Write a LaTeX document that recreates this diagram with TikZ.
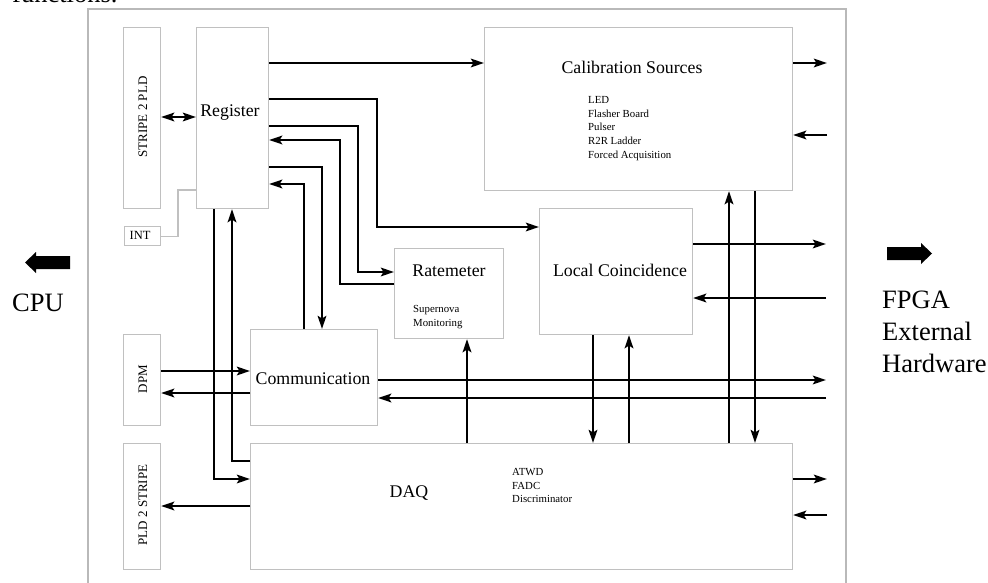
\documentclass[tikz,border=0pt]{standalone}
\usepackage{fontspec}
\setmainfont{Liberation Serif}
\usetikzlibrary{arrows.meta,calc}
\definecolor{boxgray}{RGB}{192,192,192}
\definecolor{framegray}{RGB}{185,185,185}
\newcommand{\fsz}[1]{\fontsize{#1}{#1}\selectfont}
\begin{document}
\begin{tikzpicture}[x=1pt,y=-1pt,
  blk/.style={draw=boxgray, line width=1.1pt, fill=white, inner sep=0pt, anchor=north west},
  ttl/.style={font=\fsz{17.8}, inner sep=0pt, anchor=base},
  sml/.style={font=\fsz{10.8}, inner sep=0pt, anchor=base west},
  vlab/.style={font=\fsz{13}, inner sep=0pt, rotate=90},
  big/.style={font=\fsz{26.5}, inner sep=0pt, anchor=base west},
  wire/.style={line width=2.6pt, line join=miter, -{Stealth[length=13pt,width=8.5pt,inset=2.5pt]}},
  wiretwo/.style={line width=2.6pt, {Stealth[length=13pt,width=8.5pt,inset=2.5pt]}-{Stealth[length=13pt,width=8.5pt,inset=2.5pt]}},
  gline/.style={draw=boxgray, line width=1.1pt}
]
\useasboundingbox (0,0) rectangle (988,583);
\clip (0,0) rectangle (988,583);

% surrounding text and frame
\node[big] (fn) at (12,2.5) {functions.};
\draw[framegray, line width=1.3pt] (88,590) -- (88,9) -- (846,9) -- (846,590);

% blocks
\node[blk, minimum width=37pt, minimum height=181pt] (stripe) at (123,27) {};
\node[blk, minimum width=72pt, minimum height=181pt] (reg) at (196,27) {};
\node[blk, minimum width=36pt, minimum height=19pt] (int) at (124,226) {};
\node[blk, minimum width=308pt, minimum height=163pt] (cal) at (484,27) {};
\node[blk, minimum width=153pt, minimum height=126pt] (lc) at (539,208) {};
\node[blk, minimum width=109pt, minimum height=90pt] (rate) at (394,248) {};
\node[blk, minimum width=37pt, minimum height=91pt] (dpm) at (123,334) {};
\node[blk, minimum width=127pt, minimum height=96pt] (comm) at (250,329) {};
\node[blk, minimum width=37pt, minimum height=126pt] (pld) at (123,443) {};
\node[blk, minimum width=542pt, minimum height=126pt] (daq) at (250,443) {};

% texts
\node[ttl] (tReg) at (230,117) {Register};
\node[ttl] (tCal) at (632,74) {Calibration Sources};
\node[sml] (c1) at (588,104) {LED};
\node[sml] (c2) at (588,118) {Flasher Board};
\node[sml] (c3) at (588,131) {Pulser};
\node[sml] (c4) at (588,145) {R2R Ladder};
\node[sml] (c5) at (588,159) {Forced Acquisition};
\node[ttl] (tLC) at (620,276) {Local Coincidence};
\node[ttl] (tRate) at (449,276) {Ratemeter};
\node[sml] (s1) at (413,312) {Supernova};
\node[sml] (s2) at (413,326) {Monitoring};
\node[ttl] (tComm) at (313,384) {Communication};
\node[ttl] (tDaq) at (409,497) {DAQ};
\node[sml] (d1) at (512,475) {ATWD};
\node[sml] (d2) at (512,489) {FADC};
\node[sml] (d3) at (512,502) {Discriminator};
\node[vlab] (tStripe) at (143,117) {STRIPE 2 PLD};
\node[vlab] (tDpm) at (143,379) {DPM};
\node[vlab] (tPld) at (143,505) {PLD 2 STRIPE};
\node[font=\fsz{12.5}, inner sep=0pt] (tInt) at (140,235.5) {INT};
\node[big] (tCpu) at (12,311) {CPU};
\node[big] (f1) at (882,308) {FPGA};
\node[big] (f2) at (882,340) {External};
\node[big] (f3) at (882,372) {Hardware};

% big arrows
\fill (25,262.5) -- (36,252) -- (36,256) -- (70,256) -- (70,269) -- (36,269) -- (36,273) -- cycle;
\fill (932,253.5) -- (921,243) -- (921,247) -- (887,247) -- (887,260) -- (921,260) -- (921,264) -- cycle;

% levels and bends
\coordinate (y63) at (0,63);
\coordinate (y99) at (0,99);
\coordinate (y117) at (0,117);
\coordinate (y126) at (0,126);
\coordinate (y140) at (0,140);
\coordinate (y371) at (0,371);
\coordinate (y393) at (0,393);
\coordinate (y506) at (0,506);
\coordinate (k2) at (377,227);
\coordinate (k3) at (358,272);
\coordinate (k4) at (340,284);
\coordinate (k5) at (322,167);
\coordinate (k6) at (304,184);
\coordinate (k7) at (214,479);
\coordinate (k8) at (232,461);
\coordinate (k9) at (178,190);
\coordinate (v467) at (467,0);
\coordinate (v593) at (593,0);
\coordinate (v629) at (629,0);
\coordinate (v729) at (729,0);
\coordinate (v755) at (755,0);
\coordinate (o1) at (827,63);
\coordinate (i1) at (827,135);
\coordinate (o2) at (826,244);
\coordinate (i2) at (826,298);
\coordinate (o3) at (826,380);
\coordinate (i3) at (826,398);
\coordinate (o4) at (827,479);
\coordinate (i4) at (827,515);

% connectors
\draw[gline] (int.east) -| (k9) -- (reg.west |- k9);
\draw[wire] (reg.east |- y63) -- (cal.west |- y63);
\draw[wire] (reg.east |- y99) -| (k2) -- (lc.west |- k2);
\draw[wire] (reg.east |- y126) -| (k3) -- (rate.west |- k3);
\draw[wire] (rate.west |- k4) -- (k4) |- (reg.east |- y140);
\draw[wire] (reg.east |- k5) -| (comm.north -| k5);
\draw[wire] (comm.north -| k6) |- (reg.east |- k6);
\draw[wire] (reg.south -| k7) |- (daq.west |- k7);
\draw[wire] (daq.west |- k8) -| (reg.south -| k8);
\draw[wiretwo] (stripe.east |- y117) -- (reg.west |- y117);
\draw[wire] (dpm.east |- y371) -- (comm.west |- y371);
\draw[wire] (comm.west |- y393) -- (dpm.east |- y393);
\draw[wire] (daq.west |- y506) -- (pld.east |- y506);

\draw[wire] (cal.east |- o1) -- (o1);
\draw[wire] (i1) -- (cal.east |- i1);
\draw[wire] (lc.east |- o2) -- (o2);
\draw[wire] (i2) -- (lc.east |- i2);
\draw[wire] (comm.east |- o3) -- (o3);
\draw[wire] (i3) -- (comm.east |- i3);
\draw[wire] (daq.east |- o4) -- (o4);
\draw[wire] (i4) -- (daq.east |- i4);

\draw[wire] (daq.north -| v467) -- (rate.south -| v467);
\draw[wire] (lc.south -| v593) -- (daq.north -| v593);
\draw[wire] (daq.north -| v629) -- (lc.south -| v629);
\draw[wire] (daq.north -| v729) -- (cal.south -| v729);
\draw[wire] (cal.south -| v755) -- (daq.north -| v755);
\end{tikzpicture}
\end{document}
